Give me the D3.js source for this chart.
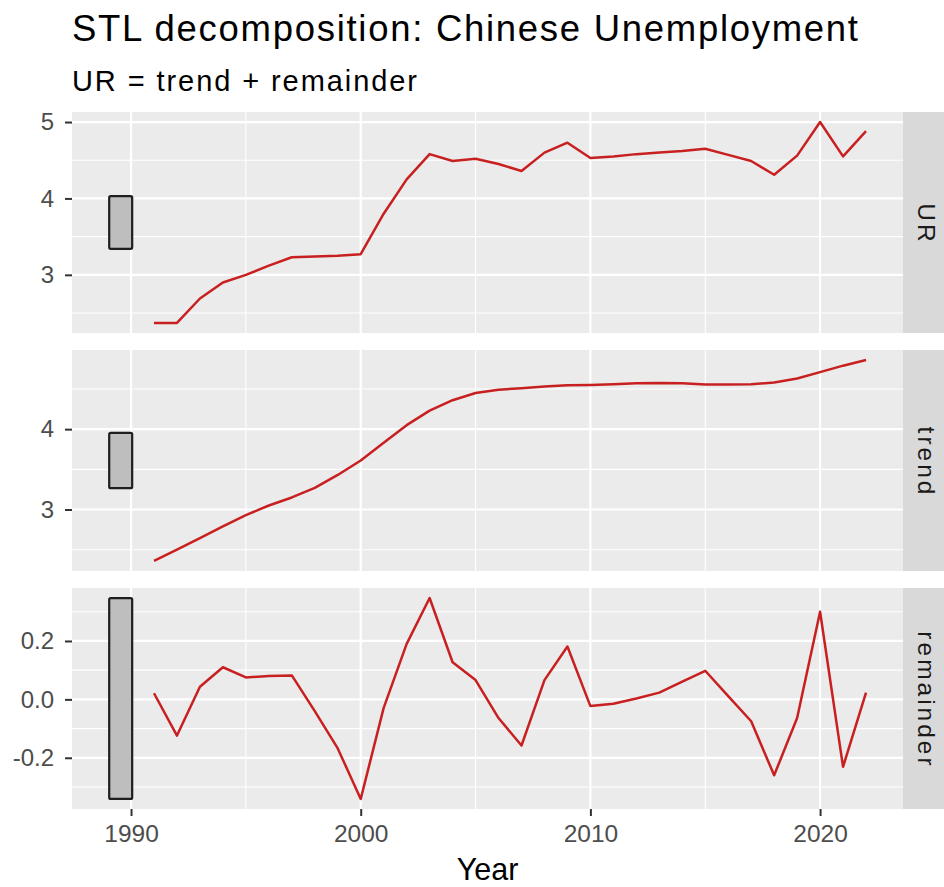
<!DOCTYPE html>
<html>
<head>
<meta charset="utf-8">
<script src="https://cdn.jsdelivr.net/npm/d3@7"></script>
<style>
  html, body { margin: 0; padding: 0; background: #ffffff; }
  svg { display: block; font-family: "Liberation Sans", Arial, Helvetica, sans-serif; }
</style>
</head>
<body>
<svg id="chart" width="944" height="887"></svg>
<script>
// Annual observations, 1991–2022
const years = [1991, 1992, 1993, 1994, 1995, 1996, 1997, 1998, 1999, 2000,
               2001, 2002, 2003, 2004, 2005, 2006, 2007, 2008, 2009, 2010,
               2011, 2012, 2013, 2014, 2015, 2016, 2017, 2018, 2019, 2020,
               2021, 2022];

// Unemployment rate (%)
const urValues = [2.37, 2.37, 2.69, 2.90, 3.00, 3.12, 3.23, 3.24, 3.25, 3.27,
                  3.80, 4.25, 4.58, 4.49, 4.52, 4.45, 4.36, 4.60, 4.73, 4.53,
                  4.55, 4.58, 4.60, 4.62, 4.65, 4.57, 4.49, 4.31, 4.56, 5.00,
                  4.55, 4.88];

// STL trend component
const trendValues = [2.36, 2.50, 2.645, 2.79, 2.93, 3.05, 3.15, 3.27, 3.43, 3.61,
                     3.83, 4.05, 4.23, 4.36, 4.45, 4.49, 4.51, 4.53, 4.545, 4.55,
                     4.56, 4.57, 4.575, 4.57, 4.555, 4.555, 4.56, 4.58, 4.63, 4.71,
                     4.79, 4.86];

// STL remainder component
const remainderValues = [0.021, -0.124, 0.043, 0.110, 0.075, 0.080, 0.082, -0.040, -0.168, -0.341,
                         -0.029, 0.190, 0.347, 0.127, 0.066, -0.064, -0.158, 0.066, 0.181, -0.023,
                         -0.015, 0.003, 0.023, 0.061, 0.098, 0.011, -0.075, -0.260, -0.064, 0.300,
                         -0.231, 0.023];

const componentNames = ["UR", "trend", "remainder"];
const xTickValues = [1990, 2000, 2010, 2020];
const yTickValues = [[3, 4, 5], [3, 4], [-0.2, 0.0, 0.2]];

const titleText = "STL decomposition: Chinese Unemployment";
const subtitleText = "UR = trend + remainder";
const xAxisTitle = "Year";

// ---- layout ----
const W = 944, H = 887;
const plotLeft = 72, plotRight = 903;
const stripW = 48;
const panelTop = 112, panelH = 221, panelGap = 17;

const svg = d3.select("#chart");
svg.append("rect").attr("width", W).attr("height", H).attr("fill", "#ffffff");

const x = d3.scaleLinear().domain([1987.43, 2023.61]).range([plotLeft, plotRight]);

const series = [urValues, trendValues, remainderValues];

// Scale bars share the length of the narrowest component's range
const ranges = series.map(s => d3.extent(s));
const barLen = d3.min(ranges, r => r[1] - r[0]);
const barSpan = [1989.05, 1990.05];

const lineColor = "#C82020";

series.forEach((vals, i) => {
  const top = panelTop + i * (panelH + panelGap);
  const bottom = top + panelH;
  const [lo, hi] = ranges[i];
  const pad = (hi - lo) * 0.05;
  const y = d3.scaleLinear().domain([lo - pad, hi + pad]).range([bottom, top]);

  const g = svg.append("g");

  // panel background
  g.append("rect")
    .attr("x", plotLeft).attr("y", top)
    .attr("width", plotRight - plotLeft).attr("height", panelH)
    .attr("fill", "#EBEBEB");

  // minor grid (midpoints between major breaks)
  const majors = yTickValues[i];
  const step = majors[1] - majors[0];
  const minorY = [];
  for (let k = -1; k < majors.length; k++) {
    const v = majors[0] + (k + 0.5) * step;
    if (v > y.domain()[0] && v < y.domain()[1]) minorY.push(v);
  }
  g.selectAll(".minor-y").data(minorY).enter().append("line")
    .attr("x1", plotLeft).attr("x2", plotRight)
    .attr("y1", d => y(d)).attr("y2", d => y(d))
    .attr("stroke", "#ffffff").attr("stroke-width", 1.1);

  const minorX = [1995, 2005, 2015];
  g.selectAll(".minor-x").data(minorX).enter().append("line")
    .attr("y1", top).attr("y2", bottom)
    .attr("x1", d => x(d)).attr("x2", d => x(d))
    .attr("stroke", "#ffffff").attr("stroke-width", 1.1);

  // major grid
  g.selectAll(".major-y").data(majors).enter().append("line")
    .attr("x1", plotLeft).attr("x2", plotRight)
    .attr("y1", d => y(d)).attr("y2", d => y(d))
    .attr("stroke", "#ffffff").attr("stroke-width", 2.2);
  g.selectAll(".major-x").data(xTickValues).enter().append("line")
    .attr("y1", top).attr("y2", bottom)
    .attr("x1", d => x(d)).attr("x2", d => x(d))
    .attr("stroke", "#ffffff").attr("stroke-width", 2.2);

  // scale bar, centred on the panel's data range
  const mid = (lo + hi) / 2;
  g.append("rect")
    .attr("x", x(barSpan[0])).attr("width", x(barSpan[1]) - x(barSpan[0]))
    .attr("y", y(mid + barLen / 2))
    .attr("height", y(mid - barLen / 2) - y(mid + barLen / 2))
    .attr("fill", "#BEBEBE").attr("stroke", "#1E1E1E").attr("stroke-width", 2.2)
    .attr("rx", 1.5);

  // component line
  const line = d3.line().x((d, j) => x(years[j])).y(d => y(d));
  g.append("path").datum(vals)
    .attr("d", line)
    .attr("fill", "none").attr("stroke", lineColor)
    .attr("stroke-width", 2.5).attr("stroke-linejoin", "round");

  // y axis
  const fmt = i === 2 ? (d => d.toFixed(1)) : (d => String(d));
  const ya = g.append("g")
    .attr("transform", `translate(${plotLeft},0)`)
    .call(d3.axisLeft(y).tickValues(majors).tickFormat(fmt).tickSize(7).tickPadding(11));
  ya.select(".domain").remove();
  ya.selectAll(".tick line").attr("stroke", "#333333").attr("stroke-width", 2);
  ya.selectAll(".tick text")
    .attr("fill", "#4D4D4D").style("font-size", "24px")
    .style("font-family", "'Liberation Sans', Arial, sans-serif");

  // facet strip
  g.append("rect")
    .attr("x", plotRight).attr("y", top)
    .attr("width", stripW).attr("height", panelH)
    .attr("fill", "#D9D9D9");
  g.append("text")
    .attr("transform", `translate(${plotRight + 24},${top + panelH / 2 + 1.5}) rotate(90)`)
    .attr("text-anchor", "middle").attr("dy", "0.35em")
    .attr("fill", "#1A1A1A").style("font-size", "24.5px")
    .style("letter-spacing", "3px")
    .text(componentNames[i]);

  // x axis on the bottom panel
  if (i === series.length - 1) {
    const xa = svg.append("g")
      .attr("transform", `translate(0,${bottom})`)
      .call(d3.axisBottom(x).tickValues(xTickValues).tickFormat(d3.format("d")).tickSize(7).tickPadding(9));
    xa.select(".domain").remove();
    xa.selectAll(".tick line").attr("stroke", "#333333").attr("stroke-width", 2);
    xa.selectAll(".tick text")
      .attr("fill", "#4D4D4D").style("font-size", "24.5px")
      .style("font-family", "'Liberation Sans', Arial, sans-serif");
  }
});

// titles
svg.append("text")
  .attr("x", plotLeft).attr("y", 40.5)
  .attr("fill", "#000000").style("font-size", "36.5px")
  .attr("textLength", 786).attr("lengthAdjust", "spacing")
  .text(titleText);

svg.append("text")
  .attr("x", plotLeft).attr("y", 90.5)
  .attr("fill", "#000000").style("font-size", "29px")
  .attr("textLength", 345).attr("lengthAdjust", "spacing")
  .text(subtitleText);

svg.append("text")
  .attr("x", (plotLeft + plotRight) / 2).attr("y", 880)
  .attr("text-anchor", "middle")
  .attr("fill", "#000000").style("font-size", "30.5px")
  .text(xAxisTitle);
</script>
</body>
</html>
